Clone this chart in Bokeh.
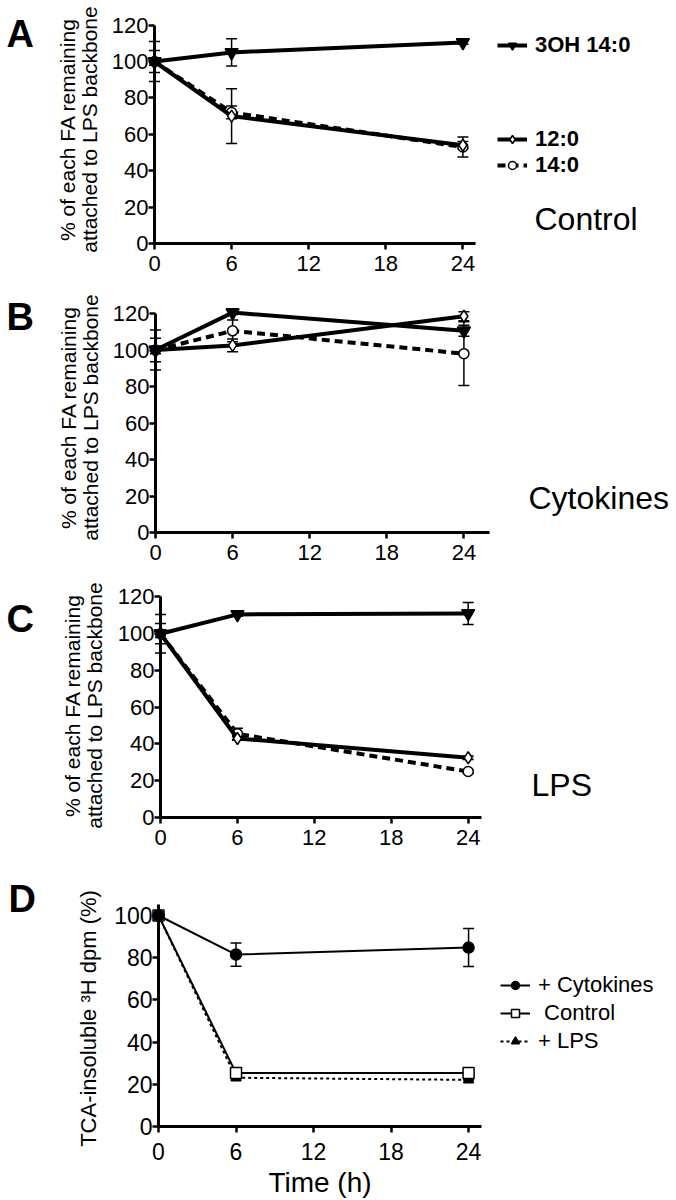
import math
from bokeh.plotting import figure
from bokeh.models import (LinearAxis, FixedTicker, Whisker, TeeHead, ColumnDataSource,
                          Legend, LegendItem, Label)
from bokeh.layouts import column
from bokeh.embed import file_html
from bokeh.resources import INLINE

FONT = "Liberation Sans"

# ---------------- data ----------------
hours = [0, 6, 24]
x_ticks = [0, 6, 12, 18, 24]
y_ticks_fa = [0, 20, 40, 60, 80, 100, 120]
y_ticks_tca = [0, 20, 40, 60, 80, 100]

fa_names = ["3OH 14:0", "12:0", "14:0"]
conditions = ["Control", "Cytokines", "LPS"]
d_names = ["+ Cytokines", " Control", "+ LPS"]
fa_ylabel = "% of each FA remaining\nattached to LPS backbone"
d_ylabel = "TCA-insoluble \u00b3H dpm (%)"
d_xlabel = "Time (h)"

# Panel A - Control
a_3oh = [100, 105, 110.5]
a_3oh_err = [11, 7.5, 1]
a_c12 = [100, 70, 54]
a_c12_err = [6, 15, 2]
a_c14 = [100, 72, 53]
a_c14_err = [2, 3.5, 5.5]

# Panel B - Cytokines
b_3oh = [100, 120.5, 110.5]
b_3oh_err = [11, 1, 3]
b_c12 = [100, 102.5, 118.5]
b_c12_err = [6.5, 3.5, 2.5]
b_c14 = [100, 110.5, 98]
b_c14_err = [2, 6, 17.5]

# Panel C - LPS
c_3oh = [100, 110.5, 111]
c_3oh_err = [10.5, 1, 6]
c_c12 = [100, 43, 32.5]
c_c12_err = [5.5, 1, 1]
c_c14 = [100, 45.5, 25]
c_c14_err = [2, 3, 1]

# Panel D - TCA-insoluble 3H
d_cyt = [100, 81.5, 84.8]
d_cyt_err = [0, 5.5, 9]
d_ctrl = [100, 25.3, 25.3]
d_ctrl_err = [0, 0, 0]
d_lps = [100, 23.1, 22.1]
d_lps_err = [0, 0, 0]

# ---------------- layout (image pixels) ----------------
W = 676
GEOM = {
    "A": dict(top=0, h=285, ax=154, y0=243, ppx=12.85, ppy=1.82, xb=25, yb=120),
    "B": dict(top=285, h=285, ax=155, y0=532, ppx=12.85, ppy=1.825, xb=26, yb=120),
    "C": dict(top=570, h=288, ax=160, y0=817, ppx=12.82, ppy=1.838, xb=25, yb=120),
    "D": dict(top=858, h=342, ax=158, y0=1126, ppx=12.92, ppy=2.11, xb=25, yb=105),
}


class Panel:
    def __init__(self, g):
        self.g = g
        self.bottom = g["top"] + g["h"]

    def dx(self, px):
        return (px - self.g["ax"]) / self.g["ppx"]

    def dy(self, py):
        return (self.g["y0"] - py) / self.g["ppy"]


def make_fig(key, yticks, tick_size, x_standoff, xlabel=None):
    g = GEOM[key]
    pn = Panel(g)
    p = figure(width=W, height=g["h"],
               x_range=(pn.dx(0), pn.dx(W)), y_range=(pn.dy(pn.bottom), pn.dy(g["top"])),
               output_backend="svg", toolbar_location=None, title=None,
               x_axis_location=None, y_axis_location=None,
               min_border=0, min_border_left=0, min_border_right=0,
               min_border_top=0, min_border_bottom=0)
    p.outline_line_color = None
    p.xgrid.visible = False
    p.ygrid.visible = False
    yax = LinearAxis(ticker=FixedTicker(ticks=yticks), fixed_location=0, bounds=(0, g["yb"]))
    xax = LinearAxis(ticker=FixedTicker(ticks=x_ticks), fixed_location=0, bounds=(0, g["xb"]))
    for ax in (yax, xax):
        ax.axis_line_width = 3
        ax.axis_line_color = "black"
        ax.major_tick_line_width = 2.5
        ax.major_tick_out = 6
        ax.major_tick_in = 0
        ax.minor_tick_out = 0
        ax.minor_tick_in = 0
        ax.major_label_text_font = FONT
        ax.major_label_text_font_size = f"{tick_size}px"
        ax.major_label_text_color = "black"
        ax.axis_label_text_font = FONT
        ax.axis_label_text_font_style = "normal"
        ax.axis_label_text_color = "black"
    yax.major_label_standoff = 0
    xax.major_label_standoff = x_standoff
    if xlabel:
        xax.axis_label = xlabel
        xax.axis_label_text_font_size = "28px"
        xax.axis_label_standoff = 4
    p.add_layout(yax, "left")
    p.add_layout(xax, "below")
    return p, pn


def add_series(p, y, err, marker, fill, dash, lw, size):
    src = ColumnDataSource(dict(x=hours, y=y,
                                upper=[v + e for v, e in zip(y, err)],
                                lower=[v - e for v, e in zip(y, err)]))
    w = Whisker(base="x", upper="upper", lower="lower", source=src, dimension="height",
                line_width=1.5, line_color="black",
                upper_head=TeeHead(size=11, line_width=1.5, line_color="black"),
                lower_head=TeeHead(size=11, line_width=1.5, line_color="black"))
    p.add_layout(w)
    l = p.line("x", "y", source=src, line_width=lw, line_color="black", line_dash=dash)
    s = p.scatter("x", "y", source=src, marker=marker, size=size, fill_color=fill,
                  line_color="black", line_width=1.5)
    return [l, s]


def add_text(p, pn, text, px, py, size, bold=False, angle=0.0, align="left",
             baseline="middle", line_height=1.2):
    p.add_layout(Label(x=pn.dx(px), y=pn.dy(py), text=text, text_font=FONT,
                       text_font_size=f"{size}px",
                       text_font_style="bold" if bold else "normal",
                       text_align=align, text_baseline=baseline, angle=angle,
                       text_line_height=line_height, text_color="black"))


def add_legend(p, pn, items, left_px, top_center_px, spacing, font_size, bold, item_h=26):
    n = len(items)
    top = top_center_px - item_h / 2
    bottom = top + n * item_h + (n - 1) * spacing
    leg = Legend(items=items, location=(left_px, pn.bottom - bottom),
                 orientation="vertical", spacing=spacing, padding=0, margin=0,
                 glyph_width=30, glyph_height=20, label_height=20, label_standoff=8,
                 border_line_color=None, background_fill_alpha=0,
                 label_text_font=FONT, label_text_font_size=f"{font_size}px",
                 label_text_font_style="bold" if bold else "normal",
                 label_text_color="black")
    p.add_layout(leg)


# letter centre y, condition text (left, centre y), y-label centre (x, y)
fa_panels = [
    ("A", a_3oh, a_3oh_err, a_c12, a_c12_err, a_c14, a_c14_err, 33.5, (534, 218), (78, 129)),
    ("B", b_3oh, b_3oh_err, b_c12, b_c12_err, b_c14, b_c14_err, 316, (528, 497), (79, 417)),
    ("C", c_3oh, c_3oh_err, c_c12, c_c12_err, c_c14, c_c14_err, 618, (531, 784), (83, 705)),
]

figs = []
for i, (key, s1, e1, s2, e2, s3, e3, let_y, cond_pos, lab_pos) in enumerate(fa_panels):
    p, pn = make_fig(key, y_ticks_fa, 22, 6)
    r3 = add_series(p, s3, e3, "circle", "white", "8 5", 4, 10)
    r2 = add_series(p, s2, e2, "diamond", "white", "solid", 4, 12)
    r1 = add_series(p, s1, e1, "inverted_triangle", "black", "solid", 4, 13)
    add_text(p, pn, key, 6, let_y, 38, bold=True)
    add_text(p, pn, conditions[i], cond_pos[0], cond_pos[1], 32)
    add_text(p, pn, fa_ylabel, lab_pos[0], lab_pos[1], 21, angle=math.pi / 2,
             align="center", line_height=0.95)
    if key == "A":
        add_legend(p, pn, [LegendItem(label=fa_names[0], renderers=r1)], 497, 45, 0, 22, True)
        add_legend(p, pn, [LegendItem(label=fa_names[1], renderers=r2),
                           LegendItem(label=fa_names[2], renderers=r3)], 497, 139, 0, 22, True)
    figs.append(p)

p, pn = make_fig("D", y_ticks_tca, 23, 10, xlabel=d_xlabel)
rl = add_series(p, d_lps, d_lps_err, "triangle", "black", "3 3", 2, 10)
rc = add_series(p, d_ctrl, d_ctrl_err, "square", "white", "solid", 2, 11)
ry = add_series(p, d_cyt, d_cyt_err, "circle", "black", "solid", 2, 11)
add_text(p, pn, "D", 8, 898, 38, bold=True)
add_text(p, pn, d_ylabel, 88, 1018, 22, angle=math.pi / 2, align="center")
add_legend(p, pn, [LegendItem(label=d_names[0], renderers=ry),
                   LegendItem(label=d_names[1], renderers=rc),
                   LegendItem(label=d_names[2], renderers=rl)], 500, 985, 2, 22, False)
figs.append(p)

layout = column(*figs, spacing=0)
open("out.html", "w").write(file_html(layout, INLINE))
